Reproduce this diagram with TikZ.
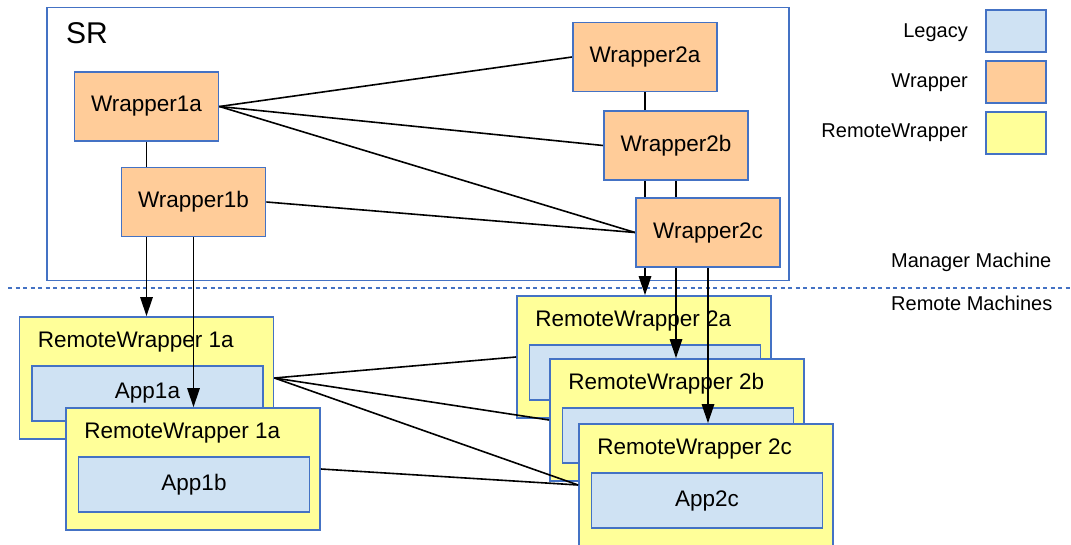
\documentclass[tikz,border=0pt]{standalone}
\usepackage{fontspec}
\setmainfont{Liberation Sans}
\usetikzlibrary{arrows.meta}
\pgfdeclarelayer{machines}
\pgfdeclarelayer{links}
\pgfsetlayers{machines,links,main}
\definecolor{edgeblue}{HTML}{4472C4}
\definecolor{wrapfill}{HTML}{FFCC99}
\definecolor{legacyfill}{HTML}{CFE2F3}
\definecolor{remotefill}{HTML}{FFFF99}

\begin{document}
\begin{tikzpicture}[x=1pt,y=-1pt,
  box/.style={draw=edgeblue,line width=1.8pt,rectangle,inner sep=0pt},
  wrapbox/.style={box,fill=wrapfill,minimum width=144pt,minimum height=69pt,font=\fontsize{22.5}{27}\selectfont},
  remotebox/.style={box,fill=remotefill,minimum width=254pt,minimum height=122pt},
  appbox/.style={box,fill=legacyfill,minimum width=231pt,minimum height=55pt,font=\fontsize{22.5}{27}\selectfont},
  rwlabel/.style={anchor=base west,inner sep=0pt,font=\fontsize{22.5}{27}\selectfont},
  keybox/.style={box,anchor=north west,minimum width=60pt,minimum height=42pt},
  keytext/.style={anchor=base east,inner sep=0pt,font=\fontsize{20}{24}\selectfont},
  zonetext/.style={anchor=base west,inner sep=0pt,font=\fontsize{20}{24}\selectfont},
  link/.style={line width=1.6pt,black},
  feed/.style={link,-{Triangle[length=19pt,width=12.5pt]}}
]
\useasboundingbox (0,0) rectangle (1071,545);

% manager side: the SR container and the wrappers
\node[wrapbox] (w1a) at (146.5,106.5) {Wrapper1a};
\node[wrapbox] (w1b) at (193.5,202) {Wrapper1b};
\node[wrapbox] (w2a) at (645,57) {Wrapper2a};
\node[wrapbox] (w2b) at (676,145.5) {Wrapper2b};
\node[wrapbox] (w2c) at (708,232.5) {Wrapper2c};

\begin{pgfonlayer}{machines}
  \node[draw=edgeblue,line width=1.5pt,inner sep=0pt,anchor=north west,
        minimum width=742pt,minimum height=273pt] (sr) at (46,7) {};
  \node[anchor=base west,inner sep=0pt,font=\fontsize{30}{36}\selectfont] (srlabel) at (66,44) {SR};

  % boundary between the two machine groups
  \coordinate (sepL) at (8,288);
  \coordinate (sepR) at (1071,288);
  \draw[edgeblue,line width=1.5pt,dash pattern=on 4pt off 3.5pt] (sepL) -- (sepR);

  % remote side: each remote wrapper holds its application
  \node[remotebox] (rw1a) at (146.5,378) {};
  \node[appbox] (app1a) at ([shift={(1,15.5)}]rw1a.center) {App1a};
  \node[rwlabel] (rw1alabel) at ([shift={(19,31)}]rw1a.north west) {RemoteWrapper 1a};

  \node[remotebox] (rw1b) at (193,469) {};
  \node[appbox] (app1b) at ([shift={(1,15.5)}]rw1b.center) {App1b};
  \node[rwlabel] (rw1blabel) at ([shift={(19,31)}]rw1b.north west) {RemoteWrapper 1a};

  \node[remotebox] (rw2a) at (644,357) {};
  \node[appbox] (app2a) at ([shift={(1,15.5)}]rw2a.center) {};
  \node[rwlabel] (rw2alabel) at ([shift={(19,31)}]rw2a.north west) {RemoteWrapper 2a};

  \node[remotebox] (rw2b) at (677,420) {};
  \node[appbox] (app2b) at ([shift={(1,15.5)}]rw2b.center) {};
  \node[rwlabel] (rw2blabel) at ([shift={(19,31)}]rw2b.north west) {RemoteWrapper 2b};

  \node[remotebox] (rw2c) at (706,485) {};
  \node[appbox] (app2c) at ([shift={(1,15.5)}]rw2c.center) {App2c};
  \node[rwlabel] (rw2clabel) at ([shift={(19,31)}]rw2c.north west) {RemoteWrapper 2c};
\end{pgfonlayer}

\begin{pgfonlayer}{links}
  % wrappers talking to each other
  \draw[link] (w1a.east) -- (w2a.west);
  \draw[link] (w1a.east) -- (w2b.west);
  \draw[link] (w1a.east) -- (w2c.west);
  \draw[link] (w1b.east) -- (w2c.west);

  % each wrapper drives its remote wrapper
  \draw[feed] (w1a.south) -- (w1a.south |- rw1a.north);
  \draw[feed] (w1b.south) -- (w1b.south |- rw1b.north);
  \draw[feed] (w2a.south) -- (w2a.south |- rw2a.north);
  \draw[feed] (w2b.south) -- (w2b.south |- rw2b.north);
  \draw[feed] (w2c.south) -- (w2c.south |- rw2c.north);

  % remote wrappers talking to each other
  \draw[link] (rw1a.east) -- (rw2a.west);
  \draw[link] (rw1a.east) -- (rw2b.west);
  \draw[link] (rw1a.east) -- (rw2c.west);
  \draw[link] (rw1b.east) -- (rw2c.west);
\end{pgfonlayer}

% legend
\node[keybox,fill=legacyfill] (keylegacy) at (985,9) {};
\node[keybox,fill=wrapfill] (keywrap) at (985,60) {};
\node[keybox,fill=remotefill] (keyremote) at (985,111) {};
\node[keytext] (keylegacytext) at (968,38) {Legacy};
\node[keytext] (keywraptext) at (968,88) {Wrapper};
\node[keytext] (keyremotetext) at (968,138) {RemoteWrapper};

% zone captions
\node[zonetext] (mgrtext) at (891,268) {Manager Machine};
\node[zonetext] (remtext) at (891,311) {Remote Machines};
\end{tikzpicture}
\end{document}
